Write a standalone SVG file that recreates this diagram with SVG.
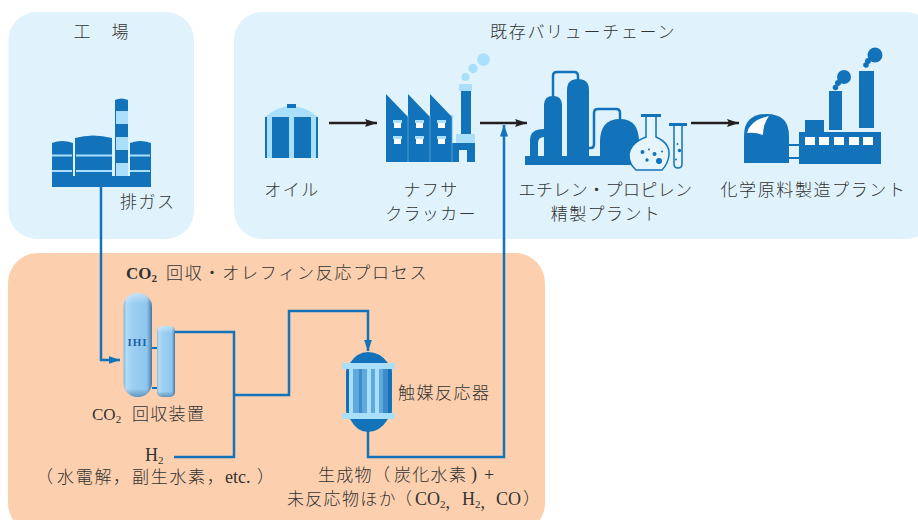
<svg xmlns="http://www.w3.org/2000/svg" width="918" height="520" viewBox="0 0 918 520">
<defs>
<marker id="ab" markerUnits="userSpaceOnUse" markerWidth="12" markerHeight="8" refX="12" refY="4" orient="auto"><path d="M0 0L12 4L0 8L2 4Z" fill="#231f20"/></marker>
<marker id="au" markerUnits="userSpaceOnUse" markerWidth="12" markerHeight="8" refX="11.500" refY="4" orient="auto"><path d="M0 0L12 4L0 8Z" fill="#1273bb"/></marker>
<linearGradient id="v" x1="0" x2="1" y1="0" y2="0"><stop offset="0" stop-color="#7fb8e2"/><stop offset=".1" stop-color="#b2dcf6"/><stop offset=".3" stop-color="#9dd0f2"/><stop offset=".82" stop-color="#8fc6ee"/><stop offset=".94" stop-color="#5f93bd"/><stop offset="1" stop-color="#44749c"/></linearGradient>
<linearGradient id="h" x1="0" x2="0" y1="0" y2="1"><stop offset="0" stop-color="#fff" stop-opacity=".45"/><stop offset=".1" stop-color="#fff" stop-opacity="0"/><stop offset=".92" stop-color="#3c6f9c" stop-opacity="0"/><stop offset="1" stop-color="#3c6f9c" stop-opacity=".6"/></linearGradient>
</defs>
<style>
.t{font-family:"Liberation Serif","Noto Sans CJK JP",serif;font-size:17px;fill:#333;font-weight:300}
.s{font-size:11px}
.u{font-size:18px}
.m{text-anchor:middle}
.b{fill:#1273bb}
.l{fill:#aadffb}
.w{fill:#fff}
.p{fill:#e0f3fc}
.c{fill:none;stroke:#1273bb;stroke-width:2.500}
.k{fill:none;stroke:#231f20;stroke-width:2.500}
</style>
<rect x="8.500" y="12" width="185.500" height="227" rx="28" class="p"/>
<rect x="234" y="12" width="700" height="227" rx="28" class="p"/>
<rect x="8" y="253" width="537" height="280" rx="30" fill="#fcd0ae"/>

<g id="connectors">
<path class="c" d="M101 187V360H120" marker-end="url(#au)"/>
<path class="c" d="M175 332H234V457H174"/>
<path class="c" d="M234 395H289V311H368V351" marker-end="url(#au)"/>
<path class="c" d="M368 430V457H504V125" marker-end="url(#au)"/>
<path class="k" d="M329 123H377" marker-end="url(#ab)"/>
<path class="k" d="M480 123H527" marker-end="url(#ab)"/>
<path class="k" d="M691 123H739" marker-end="url(#ab)"/>
</g>

<g id="factory">
<text class="t m" x="102" y="38" letter-spacing="2">工　場</text>
<path class="b" d="M52 143Q62 139 73 143V176H75V138Q93 133 112 138V176H115V100Q121.500 97 128 100V176H130V143Q140 139 151 143V187H52Z"/>
<rect class="l" x="116" y="111" width="12" height="13"/><rect class="l" x="116" y="137" width="12" height="13"/><rect class="l" x="116" y="163" width="12" height="13"/>
<path d="M52 155.500H72M76 155.500H112M130 155.500H150M52 171H72M76 171H112M130 171H150" stroke="#aadffb" stroke-width="1.800" fill="none"/>
<text class="t" x="120" y="208" letter-spacing="1.500">排ガス</text>
</g>

<g id="chain-title"><text class="t" x="490" y="38" letter-spacing="1.700">既存バリューチェーン</text></g>

<g id="oil">
<path class="l" d="M265 117Q291 95 318 117Z"/>
<rect class="b" x="287" y="104" width="9" height="4"/>
<rect class="b" x="265" y="117" width="53" height="41"/>
<rect class="l" x="267" y="117" width="5" height="41"/><rect class="l" x="289" y="117" width="5" height="41"/><rect class="l" x="311" y="117" width="5" height="41"/>
<text class="t m" x="292" y="196" letter-spacing="1.500">オイル</text>
</g>

<g id="naphtha">
<path class="b" d="M386 94L408 117V94L430 117V94L452 117V143H456V134H461V91H471V134H475V162H467V150H459V162H386Z"/>
<path d="M408 115V162M430 115V162M452 115V162" stroke="#5da9dc" stroke-width=".8"/>
<rect class="l" x="459" y="84" width="13" height="7"/><rect class="l" x="456" y="134" width="19" height="9"/>
<circle class="l" cx="465.500" cy="77" r="4"/><circle class="l" cx="473" cy="68.500" r="4.700"/><circle class="l" cx="483.500" cy="59.500" r="6.300"/>
<path class="l" d="M393 120h9v3h-9zM415 120h9v3h-9zM437 120h9v3h-9zM393 136h9v3h-9zM415 136h9v3h-9zM437 136h9v3h-9z"/>
<path class="w" d="M394 123h7v5h-7zM416 123h7v5h-7zM438 123h7v5h-7zM394 139h7v5h-7zM416 139h7v5h-7zM438 139h7v5h-7z"/>
<text class="t m" x="431" y="196" letter-spacing="1.300">ナフサ</text>
<text class="t m" x="431" y="220" letter-spacing="1.300">クラッカー</text>
</g>

<g id="ethylene">
<rect class="b" x="525" y="156" width="106" height="9"/>
<path class="b" d="M530 156V140Q530 129 544 129V137Q538 137 538 143V156Z"/>
<path class="b" d="M544 156V105Q544 96 553 96Q562 96 562 105V156Z"/>
<path class="b" d="M567 156V90Q567 79 578 79Q589 79 589 90V156Z"/>
<path d="M553 97V76Q553 72 557 72H574Q578 72 578 76V80" fill="none" stroke="#1273bb" stroke-width="2.500"/>
<path class="b" d="M600 156V142Q600 119 620 119Q639 119 639 142V156Z"/>
<path d="M589 148H591Q594 148 594 144V113Q594 109 598 109H616Q620 109 620 113V120" fill="none" stroke="#1273bb" stroke-width="2.500"/>
<g stroke="#1273bb" stroke-width="1.500" fill="#e6f4fb">
<path d="M646 116H656V137Q670 143 669 155Q668 164 662 170H636Q629 164 629 155Q630 143 646 137Z"/>
<path d="M674 125H682V164Q682 168 678 168Q674 168 674 164Z"/>
</g>
<rect class="b" x="641" y="114" width="20" height="3"/><rect class="b" x="669" y="123" width="18" height="3"/>
<circle class="b" cx="642.500" cy="152" r="2"/><circle class="b" cx="649" cy="149.500" r="1"/><circle class="b" cx="654.500" cy="154" r="2"/><circle class="b" cx="662" cy="151.500" r="1"/><circle class="b" cx="647" cy="160" r="1.700"/><circle class="b" cx="659" cy="161" r="3"/>
<circle class="b" cx="677.500" cy="144" r=".9"/><circle class="b" cx="679.500" cy="150.500" r="1.700"/><circle class="b" cx="676" cy="159.500" r="1"/>
<text class="t m" x="605.500" y="196" letter-spacing=".4">エチレン・プロピレン</text>
<text class="t m" x="606" y="220" letter-spacing="1.400">精製プラント</text>
</g>

<g id="chemical">
<path class="b" d="M744 163V136Q744 114 766.500 114Q789 114 789 136V163Z"/>
<path class="w" d="M747 133Q750 120 769 116Q763 124 763 135Q755 132 747 133Z"/>
<path d="M789 145H799M789 158H799" stroke="#1273bb" stroke-width="2"/>
<rect class="b" x="799" y="132" width="82" height="32"/>
<rect class="b" x="805" y="120" width="19" height="12"/>
<rect class="b" x="829" y="91" width="13" height="39"/>
<rect class="b" x="859" y="71" width="15" height="57"/>
<path class="w" d="M805 137h10v8h-10zM819 137h10v8h-10zM834 137h10v8h-10zM849 137h10v8h-10zM863 137h10v8h-10z"/>
<circle class="b" cx="844" cy="77" r="7"/><circle class="b" cx="838" cy="83" r="3"/><circle class="b" cx="835.500" cy="87.500" r="2.800"/>
<circle class="b" cx="875" cy="55" r="7.500"/><circle class="b" cx="868" cy="61" r="3"/><circle class="b" cx="866" cy="65" r="2.800"/>
<text class="t m" x="813.500" y="196" letter-spacing="1.600">化学原料製造プラント</text>
</g>

<g id="process-title">
<text class="t" x="126" y="279" style="font-weight:700">CO<tspan class="s" dy="3">2</tspan></text>
<text class="t" x="166" y="279" letter-spacing="1.750">回収・オレフィン反応プロセス</text>
</g>

<g id="absorber">
<path d="M152 348H157M152 388H157" stroke="#1273bb" stroke-width="2"/>
<rect x="123.500" y="293" width="28.500" height="104" rx="14" fill="url(#v)"/>
<rect x="123.500" y="293" width="28.500" height="104" rx="14" fill="url(#h)"/>
<rect x="157" y="326" width="18" height="71" rx="5" fill="url(#v)"/>
<rect x="157" y="326" width="18" height="71" rx="5" fill="url(#h)"/>
<text x="137.500" y="346" text-anchor="middle" font-family="Liberation Serif,serif" font-weight="700" font-size="11" letter-spacing="1" fill="#1f5fa8">IHI</text>
<text class="t" x="92" y="420">CO<tspan class="s" dy="3">2</tspan></text>
<text class="t" x="132" y="420" letter-spacing="1.300">回収装置</text>
</g>

<g id="reactor">
<path class="b" d="M350 363Q357 352 368 352Q380 352 388 363Q392 366 392 372V410Q392 416 388 419Q380 432 368 432Q357 432 350 419Q346 416 346 410V372Q346 366 350 363Z"/>
<rect x="349" y="369" width="39" height="44" fill="#5fa9de"/>
<rect class="l" x="349" y="369" width="4" height="44"/><rect class="l" x="367" y="369" width="4" height="44"/><rect class="l" x="375" y="369" width="4" height="44"/>
<rect x="359" y="369" width="3" height="44" fill="#3f8acb"/><rect x="383" y="369" width="5" height="44" fill="#3f8acb"/>
<rect class="l" x="342" y="363" width="53" height="6"/><rect class="l" x="342" y="413" width="53" height="6"/>
<text class="t" x="398" y="399" letter-spacing="1.500">触媒反応器</text>
</g>

<g id="h2">
<text class="t u" x="145" y="461">H<tspan class="s" dy="3">2</tspan></text>
<text class="t" x="36" y="483">（</text>
<text class="t" x="57" y="483" letter-spacing="1.700">水電解，</text>
<text class="t" x="132" y="483" letter-spacing="1.700">副生水素，</text>
<text class="t u" x="225" y="483">etc.</text>
<text class="t" x="257" y="483">）</text>
</g>
<g id="product">
<text class="t" x="318" y="481" letter-spacing="1.300">生成物</text>
<text class="t" x="373" y="481">（</text>
<text class="t" x="394" y="481" letter-spacing="1.300">炭化水素</text>
<text class="t u" x="471" y="480">)</text>
<text class="t u" x="484" y="481">+</text>
<text class="t" x="287" y="505" letter-spacing="1.300">未反応物ほか</text>
<text class="t" x="395" y="505">（</text>
<text class="t u" x="415" y="505">CO<tspan class="s" dy="3">2</tspan>,</text>
<text class="t u" x="462" y="505">H<tspan class="s" dy="3">2</tspan>,</text>
<text class="t u" x="496" y="505">CO</text>
<text class="t" x="523" y="505">）</text>
</g>
</svg>
